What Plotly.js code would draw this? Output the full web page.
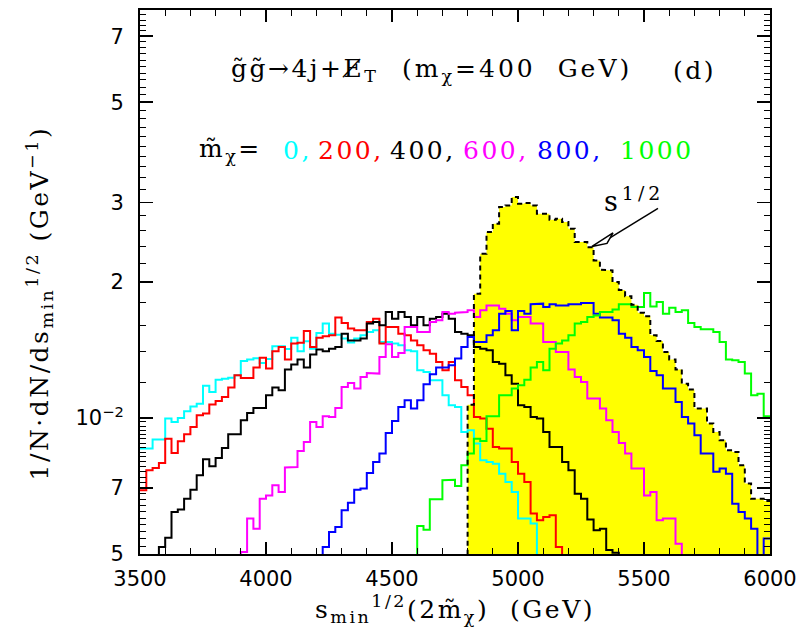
<!DOCTYPE html>
<html>
<head>
<meta charset="utf-8">
<script src="https://cdn.plot.ly/plotly-3.0.1.min.js"></script>
<style>html,body{margin:0;padding:0;background:#fff;}#chart{width:807px;height:632px;}</style>
</head>
<body>
<div id="chart"></div>
<script>
// Histogram bin width (GeV) and series (start = left edge of first listed bin)
const BIN = 25;

const cyanStart = 3500;   // m~chi = 0
const cyanVals = [0.00856, 0.00856, 0.00896, 0.00896, 0.00997, 0.00980, 0.01000, 0.01035, 0.01061, 0.01076,
  0.01179, 0.01142, 0.01216, 0.01222, 0.01228, 0.01243, 0.01337, 0.01347, 0.01356, 0.01323,
  0.01351, 0.01441, 0.01441, 0.01421, 0.01506, 0.01405, 0.01478, 0.01424, 0.01542, 0.01618,
  0.01537, 0.01529, 0.01499, 0.01470, 0.01499, 0.01524, 0.01550, 0.01563, 0.01473, 0.01473,
  0.01461, 0.01448, 0.01412, 0.01406, 0.01275, 0.01264, 0.01212, 0.01212, 0.01123, 0.01067,
  0.01058, 0.00931, 0.00939, 0.00878, 0.00806, 0.00799, 0.00792, 0.00753, 0.00722, 0.00686,
  0.00599, 0.00599, 0.00584, 0.0045];

const redStart = 3500;    // m~chi = 200
const redVals = [0.00692, 0.00766, 0.00775, 0.00795, 0.00900, 0.00837, 0.00888, 0.00920, 0.00955, 0.01014,
  0.01023, 0.01071, 0.01091, 0.01113, 0.01168, 0.01243, 0.01226, 0.01226, 0.01293, 0.01360,
  0.01287, 0.01405, 0.01436, 0.01347, 0.01461, 0.01468, 0.01558, 0.01436, 0.01506, 0.01516,
  0.01524, 0.01668, 0.01623, 0.01577, 0.01563, 0.01563, 0.01631, 0.01659, 0.01461, 0.01590,
  0.01590, 0.01537, 0.01524, 0.01485, 0.01448, 0.01412, 0.01388, 0.01330, 0.01275, 0.01330,
  0.01212, 0.01171, 0.01123, 0.01005, 0.00997, 0.00947, 0.00863, 0.00856, 0.00856, 0.00799,
  0.00753, 0.00722, 0.00615, 0.00594, 0.00604, 0.00609, 0.00518, 0.0045];

const blackStart = 3550;  // m~chi = 400
const blackVals = [0.0045, 0.00518, 0.00543, 0.00619, 0.00627, 0.00663, 0.00694, 0.00747, 0.00810, 0.00782,
  0.00816, 0.00858, 0.00920, 0.00920, 0.00988, 0.01026, 0.01052, 0.01052, 0.01123, 0.01168,
  0.01152, 0.01280, 0.01313, 0.01347, 0.01293, 0.01383, 0.01417, 0.01405, 0.01424, 0.01436,
  0.01537, 0.01485, 0.01485, 0.01499, 0.01618, 0.01631, 0.01604, 0.01716, 0.01659, 0.01716,
  0.01673, 0.01604, 0.01673, 0.01604, 0.01659, 0.01673, 0.01701, 0.01659, 0.01550, 0.01537,
  0.01524, 0.01436, 0.01424, 0.01412, 0.01330, 0.01319, 0.01243, 0.01191, 0.01067, 0.01058,
  0.01005, 0.00997, 0.00931, 0.00863, 0.00863, 0.00799, 0.00766, 0.00680, 0.00663, 0.00596,
  0.00564, 0.00569, 0.00510, 0.00503, 0.0045];

const magentaStart = 3875; // m~chi = 600
const magentaVals = [0.0045, 0.00505, 0.00599, 0.00569, 0.00663, 0.00674, 0.00710, 0.00686, 0.00777, 0.00779,
  0.00845, 0.00885, 0.00980, 0.00955, 0.01009, 0.01005, 0.01052, 0.01171, 0.01195, 0.01162,
  0.01232, 0.01258, 0.01254, 0.01364, 0.01456, 0.01364, 0.01393, 0.01590, 0.01590, 0.01550,
  0.01550, 0.01631, 0.01645, 0.01716, 0.01701, 0.01710, 0.01716, 0.01731, 0.01673, 0.01731,
  0.01775, 0.01775, 0.01746, 0.01701, 0.01645, 0.01673, 0.01673, 0.01618, 0.01618, 0.01473,
  0.01473, 0.01400, 0.01400, 0.01280, 0.01232, 0.01201, 0.01104, 0.01104, 0.01049, 0.00988,
  0.00931, 0.00880, 0.00834, 0.00773, 0.00773, 0.00674, 0.00686, 0.00594, 0.00599, 0.00599,
  0.00527, 0.0045];

const blueStart = 4200;   // m~chi = 800
const blueVals = [0.0045, 0.00518, 0.00559, 0.00574, 0.00625, 0.00649, 0.00694, 0.00698, 0.00756, 0.00799,
  0.00834, 0.00926, 0.00985, 0.01058, 0.01094, 0.01049, 0.01094, 0.01187, 0.01249, 0.01293,
  0.01293, 0.01308, 0.01354, 0.01436, 0.01511, 0.01473, 0.01473, 0.01524, 0.01563, 0.01701,
  0.01726, 0.01563, 0.01726, 0.01701, 0.01785, 0.01791, 0.01760, 0.01785, 0.01775, 0.01775,
  0.01785, 0.01785, 0.01796, 0.01796, 0.01701, 0.01668, 0.01668, 0.01645, 0.01537, 0.01506,
  0.01436, 0.01412, 0.01364, 0.01271, 0.01243, 0.01162, 0.01162, 0.01085, 0.01005, 0.00972,
  0.00916, 0.00834, 0.00834, 0.00760, 0.00773, 0.00753, 0.00646, 0.00619, 0.00599, 0.00569,
  0.0045, 0.00541];

const greenStart = 4575;  // m~chi = 1000
const greenVals = [0.0045, 0.00577, 0.00566, 0.00661, 0.00661, 0.00728, 0.00730, 0.00707, 0.00786, 0.00834,
  0.00900, 0.00889, 0.01009, 0.01009, 0.01123, 0.01123, 0.01162, 0.01181, 0.01216, 0.01293,
  0.01330, 0.01275, 0.01424, 0.01461, 0.01485, 0.01524, 0.01618, 0.01631, 0.01673, 0.01687,
  0.01716, 0.01716, 0.01738, 0.01785, 0.01785, 0.01760, 0.01760, 0.01892, 0.01766, 0.01806,
  0.01701, 0.01755, 0.01716, 0.01731, 0.01623, 0.01590, 0.01571, 0.01571, 0.01550, 0.01473,
  0.01348, 0.01342, 0.01330, 0.01254, 0.01123, 0.01132, 0.01009];

const sqrtsStart = 4800;  // s^{1/2} distribution (yellow)
const sqrtsVals = [0.0107, 0.01884, 0.02310, 0.02579, 0.02692, 0.02930, 0.02955, 0.03083, 0.02980, 0.02990,
  0.02955, 0.02833, 0.02833, 0.02747, 0.02761, 0.02714, 0.02624, 0.02452, 0.02452, 0.02389,
  0.02233, 0.02130, 0.02122, 0.0200, 0.0192, 0.0186, 0.0178, 0.0171, 0.0168, 0.01524,
  0.01480, 0.01400, 0.01347, 0.01280, 0.01191, 0.01156, 0.01049, 0.01049, 0.00972, 0.00931,
  0.00893, 0.00848, 0.00841, 0.00786, 0.00716, 0.00663, 0.00663, 0.00655];

const xTickVals = [3500, 4000, 4500, 5000, 5500, 6000];
const yTickVals = [0.005, 0.007, 0.01, 0.02, 0.03, 0.05, 0.07];
const yTickText = ['5', '7', '10<sup>\u22122</sup>', '2', '3', '5', '7'];

// ---- helpers ----
function steps(start, vals) {
  const xs = [], ys = [];
  vals.forEach((v, i) => { const x0 = start + i * BIN; xs.push(x0, x0 + BIN); ys.push(v, v); });
  return {xs, ys};
}
const FLOOR = 0.001; // below the visible range

const yMinor = [];
for (let i = 26; i <= 49; i++) { const v = +(i * 0.0002).toFixed(4); if (yTickVals.indexOf(v) < 0) yMinor.push(v); }
for (let i = 6; i <= 40; i++) { const v = +(i * 0.002).toFixed(3); if (yTickVals.indexOf(v) < 0) yMinor.push(v); }

const PL = 140, PR = 770, PT = 9.5, PB = 553.7;
const px = x => (x - PL) / (PR - PL);
const py = y => (PB - y) / (PB - PT);

const traces = [];
{
  const s = steps(sqrtsStart, sqrtsVals);
  traces.push({x: [sqrtsStart].concat(s.xs, [s.xs[s.xs.length - 1]]), y: [FLOOR].concat(s.ys, [FLOOR]),
    mode: 'lines', fill: 'toself', fillcolor: '#ffff00', line: {width: 0, color: '#ffff00'}, hoverinfo: 'skip'});
}
[[cyanStart, cyanVals, '#00ffff'], [redStart, redVals, '#ff0000'], [blackStart, blackVals, '#000000'],
 [magentaStart, magentaVals, '#ff00ff'], [blueStart, blueVals, '#0000ff'], [greenStart, greenVals, '#00ff00']]
  .forEach(([st, vals, col]) => {
    const s = steps(st, vals);
    traces.push({x: s.xs, y: s.ys, mode: 'lines', line: {color: col, width: 2}, hoverinfo: 'skip'});
  });
{
  const s = steps(sqrtsStart, sqrtsVals);
  traces.push({x: [sqrtsStart].concat(s.xs), y: [FLOOR].concat(s.ys), mode: 'lines',
    line: {color: '#000', width: 2, dash: '5px,4px'}, hoverinfo: 'skip'});
}

const SERIF = 'DejaVu Serif';
const LS = 'letter-spacing:2.5px';
function ann(text, x, y, opts) {
  return Object.assign({xref: 'paper', yref: 'paper', x: px(x), y: py(y), text: text, showarrow: false,
    xanchor: 'left', yanchor: 'middle', font: {family: SERIF, size: 25, color: '#000'}}, opts || {});
}
const annotations = [
  ann('<span style="' + LS + '">g\u0303g\u0303\u21924j+E\u0338<sub>T</sub></span>', 229, 70),
  ann('<span style="letter-spacing:3px">(m<sub>\u03c7</sub>=400  GeV)</span>', 400, 70),
  ann('<span style="' + LS + '">(d)</span>', 671, 70),
  ann('<span style="' + LS + '">m\u0303<sub>\u03c7</sub>=</span>', 197, 150),
  ann('<span style="' + LS + '">0,</span>', 281, 150, {font: {family: SERIF, size: 25, color: '#00ffff'}}),
  ann('<span style="' + LS + '">200,</span>', 316, 150, {font: {family: SERIF, size: 25, color: '#ff0000'}}),
  ann('<span style="' + LS + '">400,</span>', 388, 150, {font: {family: SERIF, size: 25, color: '#000000'}}),
  ann('<span style="' + LS + '">600,</span>', 461, 150, {font: {family: SERIF, size: 25, color: '#ff00ff'}}),
  ann('<span style="' + LS + '">800,</span>', 535, 150, {font: {family: SERIF, size: 25, color: '#0000ff'}}),
  ann('<span style="' + LS + '">1000</span>', 618, 150, {font: {family: SERIF, size: 25, color: '#00ff00'}}),
  ann('<span style="letter-spacing:4px">s<sup>1/2</sup></span>', 602, 199, {font: {family: SERIF, size: 27, color: '#000'}}),
  ann('<span style="' + LS + '">1/N\u00b7dN/ds<sub>min</sub><sup>1/2</sup> (GeV<sup>\u22121</sup>)</span>', 40, 303,
      {xanchor: 'center', textangle: -90}),
  ann('<span style="' + LS + '">s<sub>min</sub><sup>1/2</sup>(2m\u0303<sub>\u03c7</sub>)  (GeV)</span>', 455, 609,
      {xanchor: 'center'})
];

const shapes = [
  {type: 'line', xref: 'paper', yref: 'paper', x0: px(658), y0: py(208), x1: px(609.5), y1: py(237.8),
   line: {color: '#000', width: 1.5}},
  {type: 'path', xref: 'paper', yref: 'paper',
   path: 'M ' + px(592) + ' ' + py(246) + ' L ' + px(613) + ' ' + py(232.5) + ' L ' + px(607) + ' ' + py(243) + ' Z',
   fillcolor: '#ffffff', line: {color: '#000', width: 1.5}}
];

const tickFont = {family: 'DejaVu Sans', size: 21, color: '#000'};
const layout = {
  width: 807, height: 632,
  margin: {l: PL, r: 807 - PR, t: PT, b: 632 - PB, pad: 0},
  paper_bgcolor: '#fff', plot_bgcolor: '#fff',
  showlegend: false,
  xaxis: {range: [3500, 6000], tickmode: 'array', tickvals: xTickVals, ticks: 'inside', ticklen: 12, tickwidth: 1.5,
    tickcolor: '#000', showline: true, linewidth: 2, linecolor: '#000', mirror: 'allticks', showgrid: false,
    zeroline: false, tickfont: tickFont, ticklabelstandoff: 5,
    minor: {dtick: 100, tick0: 3500, ticks: 'inside', ticklen: 6, tickwidth: 1, tickcolor: '#000', showgrid: false}},
  yaxis: {type: 'log', range: [Math.log10(0.005), Math.log10(0.08)], tickmode: 'array', tickvals: yTickVals,
    ticktext: yTickText, ticks: 'inside', ticklen: 13, tickwidth: 1.5, tickcolor: '#000', showline: true,
    linewidth: 2, linecolor: '#000', mirror: 'allticks', showgrid: false, zeroline: false, tickfont: tickFont,
    ticklabelstandoff: 10,
    minor: {tickmode: 'array', tickvals: yMinor, ticks: 'inside', ticklen: 6, tickwidth: 1, tickcolor: '#000', showgrid: false}},
  annotations: annotations,
  shapes: shapes
};

Plotly.newPlot('chart', traces, layout, {staticPlot: true, displayModeBar: false});
</script>
</body>
</html>
